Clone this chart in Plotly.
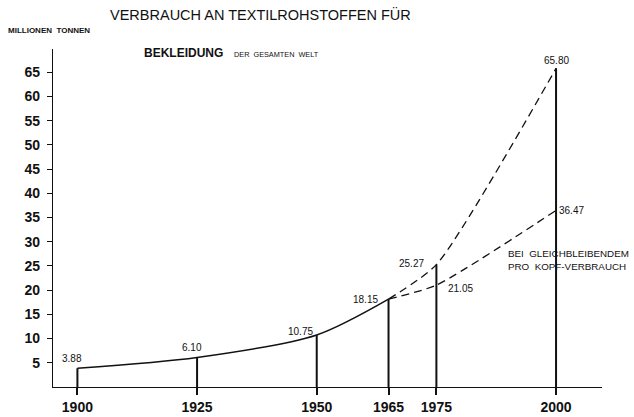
import plotly.graph_objects as go

# ---- data ----
years = [1900, 1925, 1950, 1965]
values = [3.88, 6.10, 10.75, 18.15]
proj_years = [1965, 1975, 2000]
proj_high = [18.15, 25.27, 65.80]
proj_const = [18.15, 21.05, 36.47]
x_ticks = [1900, 1925, 1950, 1965, 1975, 2000]
y_ticks = [5, 10, 15, 20, 25, 30, 35, 40, 45, 50, 55, 60, 65]

FONT = "Liberation Sans, Arial, sans-serif"
BLACK = "#111111"

fig = go.Figure()

# drop lines from the axis to each value
drop_years = years + proj_years[1:]
drop_tops = values + proj_high[1:]
dx, dy = [], []
for yr, v in zip(drop_years, drop_tops):
    dx += [yr, yr, None]
    dy += [0, v, None]
fig.add_trace(go.Scatter(x=dx, y=dy, mode="lines",
                         line=dict(color=BLACK, width=2), hoverinfo="skip"))

# historic consumption (solid)
fig.add_trace(go.Scatter(x=years, y=values, mode="lines",
                         line=dict(color=BLACK, width=1.5, shape="spline", smoothing=0.8)))
# projections (dashed)
fig.add_trace(go.Scatter(x=proj_years, y=proj_high, mode="lines",
                         line=dict(color=BLACK, width=1.3, dash="8px,5px", shape="spline", smoothing=0.6)))
fig.add_trace(go.Scatter(x=proj_years, y=proj_const, mode="lines",
                         line=dict(color=BLACK, width=1.3, dash="8px,5px", shape="spline", smoothing=0.6)))

# value labels
lab_pts = [
    (years[0], values[0], "center", -5, 10),
    (years[1], values[1], "center", -5, 10),
    (years[2], values[2], "right", -2, 3),
    (years[3], values[3], "right", -9, 0),
    (proj_years[1], proj_high[1], "right", -10, 1),
    (proj_years[2], proj_high[2], "center", 0, 8),
    (proj_years[1], proj_const[1], "left", 10, -3),
    (proj_years[2], proj_const[2], "left", 1, 0),
]
for x, y, anc, xs, ys in lab_pts:
    fig.add_annotation(x=x, y=y, text=f"{y:.2f}", showarrow=False,
                       xanchor=anc, yanchor="middle", xshift=xs, yshift=ys,
                       font=dict(family=FONT, size=10, color=BLACK))

fig.add_annotation(x=2000, y=proj_const[2], text="BEI  GLEICHBLEIBENDEM<br>PRO  KOPF-VERBRAUCH",
                   showarrow=False, xanchor="left", yanchor="top", xshift=-50, yshift=-36,
                   align="left", font=dict(family=FONT, size=9.8, color=BLACK))

# titles
def px(xp):
    return (xp - 53) / 549
def py(yp):
    return (387 - yp) / 338

fig.add_annotation(xref="paper", yref="paper", x=px(260), y=py(14),
                   text="VERBRAUCH AN TEXTILROHSTOFFEN FÜR", showarrow=False,
                   xanchor="center", yanchor="middle",
                   font=dict(family=FONT, size=14.5, color=BLACK))
fig.add_annotation(xref="paper", yref="paper", x=px(6), y=py(30),
                   text="MILLIONEN  TONNEN", showarrow=False,
                   xanchor="left", yanchor="middle",
                   font=dict(family=FONT, size=8, color=BLACK, weight="bold"))
fig.add_annotation(xref="paper", yref="paper", x=px(142), y=py(53),
                   text="BEKLEIDUNG", showarrow=False,
                   xanchor="left", yanchor="middle",
                   font=dict(family=FONT, size=12, color=BLACK, weight="bold"))
fig.add_annotation(xref="paper", yref="paper", x=px(232), y=py(55),
                   text="DER  GESAMTEN  WELT", showarrow=False,
                   xanchor="left", yanchor="middle",
                   font=dict(family=FONT, size=7.3, color=BLACK))

fig.update_layout(
    width=634, height=417,
    margin=dict(l=53, r=32, t=49, b=30, autoexpand=False),
    paper_bgcolor="white", plot_bgcolor="white",
    showlegend=False,
    xaxis=dict(range=[1894.9, 2009.6], tickvals=x_ticks, ticktext=[str(t) for t in x_ticks],
               automargin=False,
               showgrid=False, zeroline=False, showline=True, linecolor=BLACK, linewidth=1.3,
               ticks="outside", ticklen=7, tickwidth=2, tickcolor=BLACK,
               tickfont=dict(family=FONT, size=14, color=BLACK, weight="bold")),
    yaxis=dict(range=[0, 69.8], tickvals=y_ticks, ticktext=[str(t) for t in y_ticks],
               automargin=False, ticklabelstandoff=4,
               showgrid=False, zeroline=False, showline=True, linecolor=BLACK, linewidth=1.3,
               ticks="outside", ticklen=5, tickwidth=1, tickcolor=BLACK,
               tickfont=dict(family=FONT, size=14, color=BLACK, weight="bold")),
)

fig.write_html("out.html", config={"displayModeBar": False},
               post_script="document.body.style.margin='0';")
